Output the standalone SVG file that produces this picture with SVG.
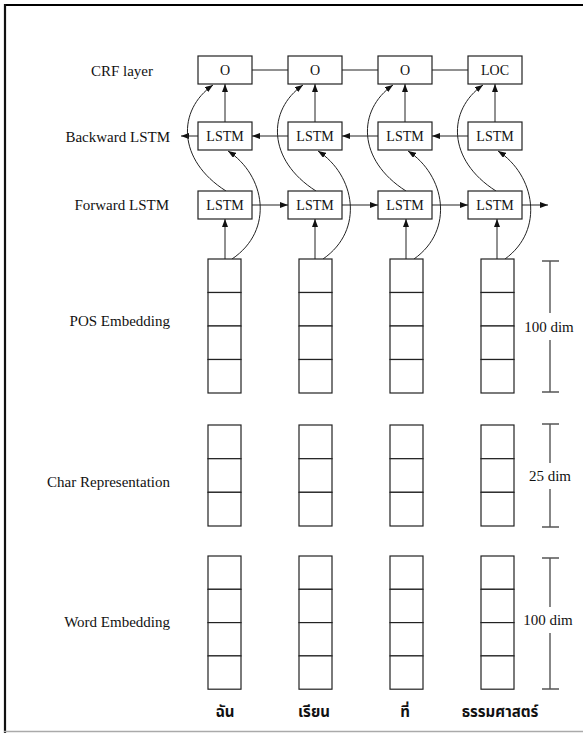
<svg xmlns="http://www.w3.org/2000/svg" width="583" height="733" viewBox="0 0 583 733">
<defs>
<marker id="ah" markerUnits="userSpaceOnUse" markerWidth="8" markerHeight="6" refX="8" refY="3" orient="auto">
<path d="M0,0 L8,3 L0,6 z" fill="#111"/>
</marker>
<style>
.box{fill:#fff;stroke:#222;stroke-width:1.2}
.cell{fill:#fff;stroke:#222;stroke-width:1.2}
.ln{fill:none;stroke:#222;stroke-width:1}
.arr{fill:none;stroke:#222;stroke-width:1;marker-end:url(#ah)}
.dim{fill:none;stroke:#555;stroke-width:1.4}
.lbl{font-family:'Liberation Serif','DejaVu Serif',serif;font-size:15px;fill:#111}
.bt{font-family:'Liberation Serif','DejaVu Serif',serif;font-size:14px;fill:#111;text-anchor:middle}
.th{font-family:'Noto Sans Thai',Tahoma,'Noto Sans','DejaVu Sans',sans-serif;font-size:15px;font-weight:bold;fill:#111;text-anchor:middle}
</style>
</defs>
<rect width="583" height="733" fill="#fff"/>
<g id="frame">
<line x1="4" y1="5" x2="583" y2="5" stroke="#000" stroke-width="2.2"/>
<line x1="5" y1="4" x2="5" y2="733" stroke="#111" stroke-width="2.2"/>
<line x1="4" y1="731.5" x2="583" y2="731.5" stroke="#aaa" stroke-width="1.5"/>
</g>
<g id="labels">
<text class="lbl" x="153" y="76" text-anchor="end">CRF layer</text>
<text class="lbl" x="170" y="142" text-anchor="end">Backward LSTM</text>
<text class="lbl" x="169" y="210" text-anchor="end">Forward LSTM</text>
<text class="lbl" x="170" y="326" text-anchor="end">POS Embedding</text>
<text class="lbl" x="170" y="487" text-anchor="end">Char Representation</text>
<text class="lbl" x="170" y="627" text-anchor="end">Word Embedding</text>
</g>
<g id="connectors">
<line class="ln" x1="252" y1="70" x2="288" y2="70"/>
<line class="ln" x1="342" y1="70" x2="378" y2="70"/>
<line class="ln" x1="432" y1="70" x2="468" y2="70"/>
<line class="arr" x1="198" y1="136" x2="181" y2="136"/>
<line class="arr" x1="288" y1="136" x2="252" y2="136"/>
<line class="arr" x1="378" y1="136" x2="342" y2="136"/>
<line class="arr" x1="468" y1="136" x2="432" y2="136"/>
<line class="arr" x1="252" y1="205" x2="288" y2="205"/>
<line class="arr" x1="342" y1="205" x2="378" y2="205"/>
<line class="arr" x1="432" y1="205" x2="468" y2="205"/>
<line class="arr" x1="522" y1="205" x2="548" y2="205"/>
<line class="arr" x1="225" y1="122" x2="225" y2="84"/>
<line class="arr" x1="315" y1="122" x2="315" y2="84"/>
<line class="arr" x1="405" y1="122" x2="405" y2="84"/>
<line class="arr" x1="495" y1="122" x2="495" y2="84"/>
<line class="arr" x1="225" y1="259" x2="225" y2="219"/>
<line class="arr" x1="315" y1="259" x2="315" y2="219"/>
<line class="arr" x1="406" y1="259" x2="406" y2="219"/>
<line class="arr" x1="497" y1="259" x2="497" y2="219"/>
<path class="arr" d="M226 191 C177 160,177 110,213 85"/>
<path class="arr" d="M316 191 C267 160,267 110,303 85"/>
<path class="arr" d="M406 191 C357 160,357 110,393 85"/>
<path class="arr" d="M496 191 C447 160,447 110,483 85"/>
<path class="arr" d="M232 259 C275 230,265 175,228 151"/>
<path class="arr" d="M323 259 C365 230,355 175,318 151"/>
<path class="arr" d="M414 259 C455 230,445 175,408 151"/>
<path class="arr" d="M505 259 C545 230,535 175,498 151"/>
</g>
<g id="crf">
<rect class="box" x="198" y="56" width="54" height="28"/><text class="bt" x="225" y="75">O</text>
<rect class="box" x="288" y="56" width="54" height="28"/><text class="bt" x="315" y="75">O</text>
<rect class="box" x="378" y="56" width="54" height="28"/><text class="bt" x="405" y="75">O</text>
<rect class="box" x="468" y="56" width="54" height="28"/><text class="bt" x="495" y="75">LOC</text>
</g>
<g id="backward">
<rect class="box" x="198" y="122" width="54" height="28"/><text class="bt" x="225" y="141">LSTM</text>
<rect class="box" x="288" y="122" width="54" height="28"/><text class="bt" x="315" y="141">LSTM</text>
<rect class="box" x="378" y="122" width="54" height="28"/><text class="bt" x="405" y="141">LSTM</text>
<rect class="box" x="468" y="122" width="54" height="28"/><text class="bt" x="495" y="141">LSTM</text>
</g>
<g id="forward">
<rect class="box" x="198" y="191" width="54" height="28"/><text class="bt" x="225" y="210">LSTM</text>
<rect class="box" x="288" y="191" width="54" height="28"/><text class="bt" x="315" y="210">LSTM</text>
<rect class="box" x="378" y="191" width="54" height="28"/><text class="bt" x="405" y="210">LSTM</text>
<rect class="box" x="468" y="191" width="54" height="28"/><text class="bt" x="495" y="210">LSTM</text>
</g>
<g id="pos">
<g id="pos1"><rect class="cell" x="208" y="259" width="33" height="33.5"/><rect class="cell" x="208" y="292.5" width="33" height="33.5"/><rect class="cell" x="208" y="326" width="33" height="33.5"/><rect class="cell" x="208" y="359.5" width="33" height="33.5"/></g>
<g id="pos2"><rect class="cell" x="299" y="259" width="33" height="33.5"/><rect class="cell" x="299" y="292.5" width="33" height="33.5"/><rect class="cell" x="299" y="326" width="33" height="33.5"/><rect class="cell" x="299" y="359.5" width="33" height="33.5"/></g>
<g id="pos3"><rect class="cell" x="390" y="259" width="33" height="33.5"/><rect class="cell" x="390" y="292.5" width="33" height="33.5"/><rect class="cell" x="390" y="326" width="33" height="33.5"/><rect class="cell" x="390" y="359.5" width="33" height="33.5"/></g>
<g id="pos4"><rect class="cell" x="481" y="259" width="33" height="33.5"/><rect class="cell" x="481" y="292.5" width="33" height="33.5"/><rect class="cell" x="481" y="326" width="33" height="33.5"/><rect class="cell" x="481" y="359.5" width="33" height="33.5"/></g>
</g>
<g id="char">
<g id="char1"><rect class="cell" x="208" y="425" width="33" height="33.7"/><rect class="cell" x="208" y="458.7" width="33" height="33.6"/><rect class="cell" x="208" y="492.3" width="33" height="33.7"/></g>
<g id="char2"><rect class="cell" x="299" y="425" width="33" height="33.7"/><rect class="cell" x="299" y="458.7" width="33" height="33.6"/><rect class="cell" x="299" y="492.3" width="33" height="33.7"/></g>
<g id="char3"><rect class="cell" x="390" y="425" width="33" height="33.7"/><rect class="cell" x="390" y="458.7" width="33" height="33.6"/><rect class="cell" x="390" y="492.3" width="33" height="33.7"/></g>
<g id="char4"><rect class="cell" x="481" y="425" width="33" height="33.7"/><rect class="cell" x="481" y="458.7" width="33" height="33.6"/><rect class="cell" x="481" y="492.3" width="33" height="33.7"/></g>
</g>
<g id="word">
<g id="word1"><rect class="cell" x="208" y="556" width="33" height="33.3"/><rect class="cell" x="208" y="589.3" width="33" height="33.3"/><rect class="cell" x="208" y="622.6" width="33" height="33.3"/><rect class="cell" x="208" y="655.9" width="33" height="33.3"/></g>
<g id="word2"><rect class="cell" x="299" y="556" width="33" height="33.3"/><rect class="cell" x="299" y="589.3" width="33" height="33.3"/><rect class="cell" x="299" y="622.6" width="33" height="33.3"/><rect class="cell" x="299" y="655.9" width="33" height="33.3"/></g>
<g id="word3"><rect class="cell" x="390" y="556" width="33" height="33.3"/><rect class="cell" x="390" y="589.3" width="33" height="33.3"/><rect class="cell" x="390" y="622.6" width="33" height="33.3"/><rect class="cell" x="390" y="655.9" width="33" height="33.3"/></g>
<g id="word4"><rect class="cell" x="481" y="556" width="33" height="33.3"/><rect class="cell" x="481" y="589.3" width="33" height="33.3"/><rect class="cell" x="481" y="622.6" width="33" height="33.3"/><rect class="cell" x="481" y="655.9" width="33" height="33.3"/></g>
</g>
<g id="dims">
<path class="dim" d="M542 261 H559 M550 261 V313 M550 340 V392 M542 392 H559"/>
<text class="lbl" x="549" y="332" text-anchor="middle">100 dim</text>
<path class="dim" d="M542 424 H559 M550 424 V463 M550 489 V527 M542 527 H559"/>
<text class="lbl" x="550" y="481" text-anchor="middle">25 dim</text>
<path class="dim" d="M542 558 H559 M550 558 V607 M550 633 V689 M542 689 H559"/>
<text class="lbl" x="548" y="625" text-anchor="middle">100 dim</text>
</g>
<g id="words">
<text class="th" x="225" y="717">ฉัน</text>
<text class="th" x="314" y="717">เรียน</text>
<text class="th" x="405" y="717">ที่</text>
<text class="th" x="500" y="717">ธรรมศาสตร์</text>
</g>
</svg>
